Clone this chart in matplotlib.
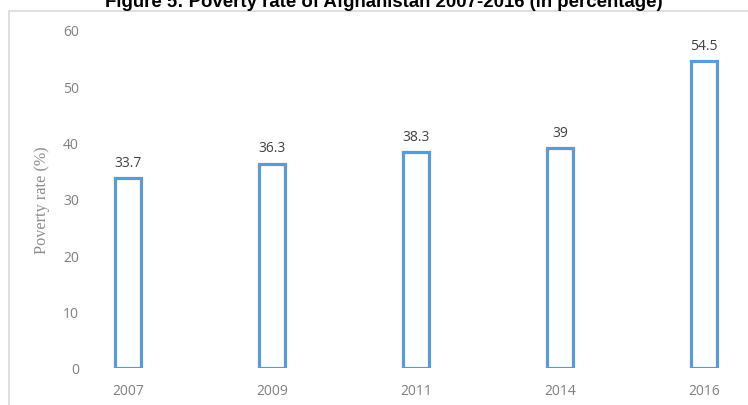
import matplotlib
matplotlib.use("Agg")
import matplotlib.pyplot as plt
from matplotlib.patches import Rectangle

years = ["2007", "2009", "2011", "2014", "2016"]
rates = [33.7, 36.3, 38.3, 39, 54.5]
rate_labels = ["33.7", "36.3", "38.3", "39", "54.5"]
yticks = [0, 10, 20, 30, 40, 50, 60]

W, H = 748, 406
fig = plt.figure(figsize=(W/100, H/100), dpi=100)

# chart border
fig.add_artist(Rectangle((9/W, -0.01), 1.0, (H-12)/H + 0.01, transform=fig.transFigure,
                         fill=False, edgecolor="#d9d9d9", linewidth=1.2))

fig.text(384/W, 1 - 7/H, "Figure 5: Poverty rate of Afghanistan 2007-2016 (in percentage)",
         ha="center", va="baseline", fontsize=13.4, fontweight="bold",
         family="Liberation Sans", color="#000000")

left = 90
ax = fig.add_axes([left/W, (H-369)/H, (W-left)/W, 338/H])
x = list(range(len(years)))
ax.bar(x, rates, width=0.18, facecolor="white", edgecolor="#5b9bd5", linewidth=2.3)
for xi, v, lab in zip(x, rates, rate_labels):
    ax.annotate(lab, (xi, v), xytext=(0, 6), textcoords="offset points",
                ha="center", va="bottom", fontsize=10, family="Open Sans",
                color="#404040", clip_on=False)

ax.set_xlim((left-128)/144, (W-128)/144)
ax.set_ylim(0, 60)
ax.set_yticks(yticks)
ax.set_yticklabels([str(t) for t in yticks])
ax.set_xticks(x)
ax.set_xticklabels(years)
for s in ax.spines.values():
    s.set_visible(False)
ax.tick_params(axis="both", length=0, colors="#7f7f7f", labelsize=10)
ax.tick_params(axis="x", pad=11)
ax.tick_params(axis="y", pad=8)
for lab in ax.get_xticklabels() + ax.get_yticklabels():
    lab.set_family("Open Sans")
ax.set_ylabel("Poverty rate (%)", family="Liberation Serif", fontsize=11.7,
              color="#8c8c8c", labelpad=9)

fig.savefig("out.png", dpi=100)
